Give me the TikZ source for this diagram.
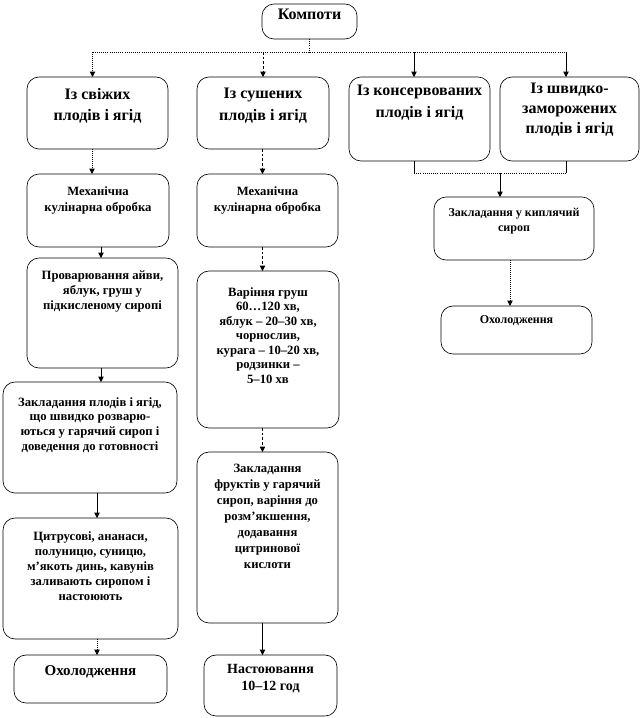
\documentclass[tikz,border=0pt]{standalone}
\usepackage{fontspec}
\setmainfont{Liberation Serif}
\usetikzlibrary{arrows.meta}
\tikzset{
  box/.style={draw, line width=0.5pt, rounded corners=9pt, inner sep=0pt, outer sep=0pt},
  hdr/.style={font=\fontsize{12}{16}\selectfont\bfseries, align=center, anchor=north, inner sep=0pt},
  body/.style={font=\fontsize{9.5}{11.25}\selectfont\bfseries, align=center, anchor=north, inner sep=0pt},
  small/.style={font=\fontsize{9}{11.25}\selectfont\bfseries, align=center, anchor=north, inner sep=0pt},
  arr/.style={line width=0.5pt, -{Triangle[width=4pt,length=4pt]}},
  dotln/.style={densely dotted, line width=0.6pt},
  dashln/.style={dash pattern=on 2pt off 1.5pt, line width=0.5pt},
  conn/.style={line width=0.5pt}
}
\newcommand\bx[5]{\node[box, minimum width={(#4-#2)*0.75pt}, minimum height={(#5-#3)*0.75pt}] (#1) at ({(#2+#4)/2},{(#3+#5)/2}) {};}
\begin{document}
\begin{tikzpicture}[x=0.75pt,y=-0.75pt]
\useasboundingbox (0,0) rectangle (642,718);
% boxes
\bx{k}{262}{4}{357}{39}
\bx{a1}{27}{77}{168}{149}
\bx{b1}{197}{77}{329}{149}
\bx{c1}{349}{77}{490}{161}
\bx{d1}{500}{77}{639}{161}
\bx{a2}{27}{174}{169}{247}
\bx{b2}{197}{174}{338}{247}
\bx{a3}{27}{258}{178}{368}
\bx{b3}{197}{271}{339}{428}
\bx{a4}{3}{382}{177}{493}
\bx{b4}{197}{452}{338}{623}
\bx{a5}{3}{518}{178}{639}
\bx{a6}{14}{655}{167}{703}
\bx{b5}{204}{655}{337}{716}
\bx{c2}{434}{197}{594}{260}
\bx{c3}{441}{306}{592}{354}
% texts
\node[hdr] (kt) at (309.5,9) {Компоти};
\node[hdr] (a1t) at (97.5,88) {Із свіжих\\плодів і ягід};
\node[hdr] (b1t) at (263,88) {Із сушених\\плодів і ягід};
\node[hdr] (c1t) at (419.5,85) {Із консервованих\\плодів і ягід};
\node[hdr, font=\fontsize{12}{15}\selectfont\bfseries] (d1t) at (569.5,83) {Із швидко-\\заморожених\\плодів і ягід};
\node[body, font=\fontsize{9.5}{12.5}\selectfont\bfseries] (a2t) at (98,186) {Механічна\\кулінарна обробка};
\node[body, font=\fontsize{9.5}{12.5}\selectfont\bfseries] (b2t) at (267.5,186) {Механічна\\кулінарна обробка};
\node[body] (a3t) at (102.5,271) {Проварювання айви,\\яблук, груш у\\підкисленому сиропі};
\node[body, font=\fontsize{9.5}{11}\selectfont\bfseries] (a4t) at (90,397) {Закладання плодів і ягід,\\що швидко розварю-\\ються у гарячий сироп і\\доведення до готовності};
\node[body, font=\fontsize{9.5}{10.9}\selectfont\bfseries] (b3t) at (268,287) {Варіння груш\\60…120 хв,\\яблук – 20–30 хв,\\чорнослив,\\курага – 10–20 хв,\\родзинки –\\5–10 хв};
\node[body, font=\fontsize{9.5}{12}\selectfont\bfseries] (b4t) at (267.5,464) {Закладання\\фруктів у гарячий\\сироп, варіння до\\розм’якшення,\\додавання\\цитринової\\кислоти};
\node[body] (a5t) at (90.5,531) {Цитрусові, ананаси,\\полуницю, суницю,\\м’якоть динь, кавунів\\заливають сиропом і\\настоюють};
\node[hdr, font=\fontsize{11.25}{14}\selectfont\bfseries] (a6t) at (90.5,665) {Охолодження};
\node[body, font=\fontsize{10.5}{12.75}\selectfont\bfseries] (b5t) at (270.5,664) {Настоювання\\10–12 год};
\node[small] (c2t) at (514,208) {Закладання у киплячий\\сироп};
\node[small] (c3t) at (516.5,315) {Охолодження};
% connectors from top
\coordinate (busL) at (92.5,52);
\coordinate (busR) at (566,52);
\coordinate (busC) at (414,52);
\draw[dotln] (k.south) -- (k.south |- busL);
\draw[dotln] (busL) -- (busR);
\draw[arr,dotln] (busL) -- (busL |- a1.north);
\draw[arr,dashln] (b1.north |- busL) -- (b1.north);
\draw[arr] (busC) -- (busC |- c1.north);
\draw[arr] (busR) -- (busR |- d1.north);
% left chain
\coordinate (xa1) at (92,0);
\coordinate (xa2) at (101,0);
\coordinate (xa4) at (97,0);
\draw[arr,dotln] (a1.south -| xa1) -- (a2.north -| xa1);
\draw[arr] (a2.south -| xa2) -- (a3.north -| xa2);
\draw[arr] (a3.south -| xa2) -- (a4.north -| xa2);
\draw[arr] (a4.south -| xa4) -- (a5.north -| xa4);
\draw[arr,dotln] (a5.south -| xa4) -- (a6.north -| xa4);
% middle chain
\coordinate (xb) at (262.5,0);
\draw[arr,dashln] (b1.south -| xb) -- (b2.north -| xb);
\draw[arr,dashln] (b2.south -| xb) -- (b3.north -| xb);
\draw[arr,dashln] (b3.south -| xb) -- (b4.north -| xb);
\draw[arr] (b4.south -| xb) -- (b5.north -| xb);
% right branch
\coordinate (jl) at (414,173);
\coordinate (jr) at (566,173);
\coordinate (jm) at (500,173);
\coordinate (xc3) at (510,0);
\draw[conn] (c1.south -| jl) -- (jl);
\draw[conn] (d1.south -| jr) -- (jr);
\draw[dotln] (jl) -- (jr);
\draw[arr] (jm) -- (jm |- c2.north);
\draw[arr,dotln] (c2.south -| xc3) -- (c3.north -| xc3);
\end{tikzpicture}
\end{document}
